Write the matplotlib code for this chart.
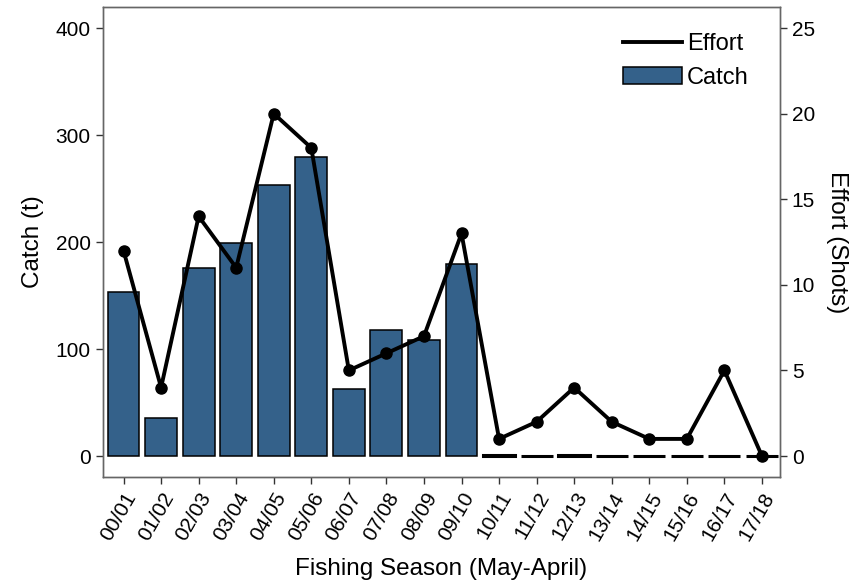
import matplotlib
matplotlib.use("Agg")
import matplotlib.pyplot as plt
from matplotlib.lines import Line2D
import numpy as np

seasons = ['00/01', '01/02', '02/03', '03/04', '04/05', '05/06', '06/07', '07/08', '08/09',
           '09/10', '10/11', '11/12', '12/13', '13/14', '14/15', '15/16', '16/17', '17/18']
catch = [153, 36, 176, 199, 253, 279, 63, 118, 108, 179, 1, 0, 0.5, 0, 0, 0, 0, 0]
effort = [12, 4, 14, 11, 20, 18, 5, 6, 7, 13, 1, 2, 4, 2, 1, 1, 5, 0]

plt.rcParams['font.family'] = ['Liberation Sans', 'DejaVu Sans']

fig = plt.figure(figsize=(8.65, 5.86), dpi=100)
ax = fig.add_axes([0.1185, 0.186, 0.7832, 0.802])
x = np.arange(len(seasons))

# near-zero bars show up as thick dashes in the original
edge_w = [1.1 if c > 5 else 2.2 for c in catch]
bars = ax.bar(x, catch, width=0.85, color='#34618a', edgecolor='black', linewidth=edge_w, label='Catch')
ax.set_xlim(-0.56, 17.48)
ax.set_ylim(-19.6, 419.6)
ax.set_yticks([0, 100, 200, 300, 400])
ax.set_xticks(x)
ax.set_xticklabels(seasons, rotation=60, ha='right', rotation_mode='anchor')
ax.set_ylabel('Catch (t)', fontsize=17.5, labelpad=8)
ax.set_xlabel('Fishing Season (May-April)', fontsize=17.5, labelpad=10)

ax2 = ax.twinx()
ax2.plot(x, effort, color='black', linewidth=2.8, marker='o', markersize=8)
ax2.set_ylim(-19.6 / 16, 419.6 / 16)
ax2.set_yticks([0, 5, 10, 15, 20, 25])
ax2.set_ylabel('Effort (Shots)', fontsize=17.5, rotation=270, labelpad=24)

for a in (ax, ax2):
    for s in a.spines.values():
        s.set_color('#666666')
        s.set_linewidth(1.0)
    a.tick_params(labelsize=15, colors='#333333', labelcolor='black', length=5, width=1)

effort_handle = Line2D([], [], color='black', linewidth=2.8)
catch_handle = plt.Rectangle((0, 0), 1, 1, facecolor='#34618a', edgecolor='black', linewidth=1.1)
ax2.legend([effort_handle, catch_handle], ['Effort', 'Catch'], loc='upper right', frameon=False, fontsize=17,
           handlelength=2.5, handletextpad=0.2, bbox_to_anchor=(0.985, 0.99))

fig.savefig('out.png', dpi=100)
